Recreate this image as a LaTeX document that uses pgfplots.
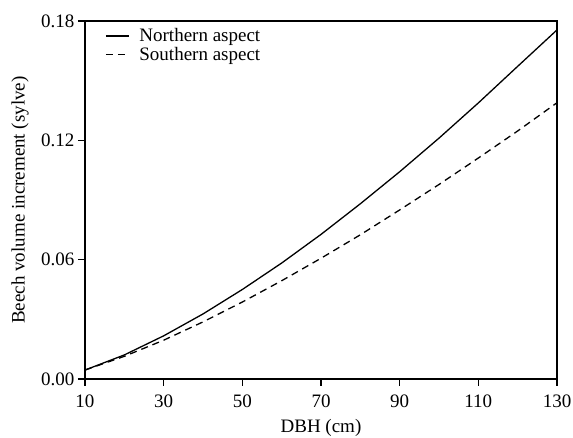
\documentclass[border=0pt]{standalone}
\usepackage{fontspec}
\setmainfont{Liberation Serif}
\usepackage{pgfplots}
\pgfplotsset{compat=1.18}

\begin{document}
\begin{tikzpicture}[font=\fontsize{19}{22}\selectfont]
% page size fixed to the reference proportions (axis box at origin)
\useasboundingbox (-85pt,-59pt) rectangle (488pt,379pt);
\begin{axis}[
    at={(0,0)}, anchor=south west,
    scale only axis,
    width=472pt, height=358pt,
    xmin=10, xmax=130, ymin=0, ymax=0.18,
    xtick={10,30,...,130},
    ytick={0,0.06,0.12,0.18},
    scaled y ticks=false,
    yticklabel style={/pgf/number format/fixed, /pgf/number format/fixed zerofill,
        /pgf/number format/precision=2, xshift=0pt},
    /pgf/number format/assume math mode=true,
    tick align=outside,
    xtick pos=left, ytick pos=left,
    major tick length=7pt,
    axis line style={line width=1.4pt},
    every tick/.style={black, line width=1.4pt},
    xlabel={DBH (cm)},
    ylabel={Beech volume increment (sylve)},
    every axis x label/.style={at={(axis description cs:0.5,0)}, anchor=center, yshift=-49pt},
    every axis y label/.style={at={(axis description cs:0,0.5)}, xshift=-65pt, anchor=center, rotate=90},
    xticklabel style={yshift=-5pt},
    legend style={draw=none, fill=none, at={(axis description cs:0.038,0.99)}, anchor=north west,
        row sep=0pt, inner sep=2pt, nodes={inner sep=2pt}},
    legend cell align={left},
    legend image code/.code={\draw[#1] (0pt,0pt) -- (23pt,0pt); \path (31pt,0pt);},
]

\addplot[black, line width=1.3pt] coordinates {
    (10,0.0045) (20,0.0121) (30,0.0217) (40,0.0327) (50,0.0450) (60,0.0583)
    (70,0.0727) (80,0.0881) (90,0.1042) (100,0.1211) (110,0.1388) (120,0.1572) (130,0.1755)
};
\addlegendentry{Northern aspect}

\addplot[black, line width=1.3pt, dash pattern=on 7pt off 5pt] coordinates {
    (10,0.0045) (20,0.0114) (30,0.0195) (40,0.0287) (50,0.0387) (60,0.0494)
    (70,0.0607) (80,0.0725) (90,0.0850) (100,0.0978) (110,0.1111) (120,0.1247) (130,0.1389)
};
\addlegendentry{Southern aspect}

\end{axis}
\end{tikzpicture}
\end{document}
